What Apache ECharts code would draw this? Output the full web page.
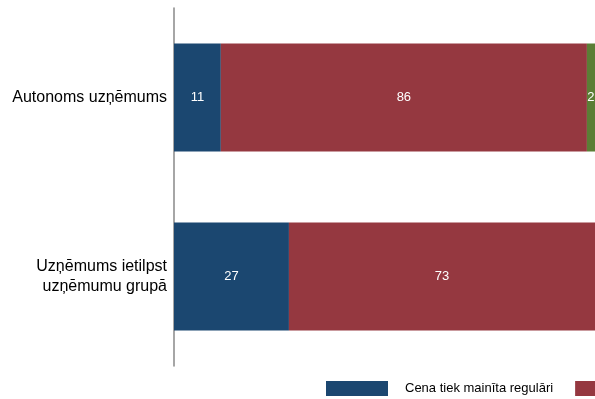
<!DOCTYPE html>
<html>
<head>
<meta charset="utf-8">
<script src="https://cdn.jsdelivr.net/npm/echarts@6/dist/echarts.min.js"></script>
<style>html,body{margin:0;padding:0;background:#fff}#c{width:595px;height:399px}</style>
</head>
<body>
<div id="c"></div>
<script>
const categories = ["Autonoms uzņēmums", "Uzņēmums ietilpst\nuzņēmumu grupā"];
const seriesNames = ["Cena tiek mainīta regulāri", "Cena tiek mainīta neregulāri", "Cena netiek mainīta"];
const regularValues = [11, 27];
const irregularValues = [86, 73];
const unchangedValues = [2, 0];
const colors = ["#1b4770", "#953840", "#5b7e35"];

const chart = echarts.init(document.getElementById('c'), null, {renderer: 'canvas'});
const mk = (name, data, color) => ({
  name: name, type: 'bar', stack: 'total', data: data,
  barWidth: 108,
  itemStyle: {color: color},
  label: {show: true, position: 'inside', color: '#fff', fontSize: 13, fontFamily: 'Liberation Sans',
    formatter: p => p.value ? String(p.value) : ''},
  emphasis: {disabled: true}
});
chart.setOption({
  animation: false,
  grid: {left: 174, right: 0, top: 8, height: 358, containLabel: false},
  xAxis: {type: 'value', min: 0, max: 98.9, show: false},
  yAxis: {type: 'category', inverse: true, data: categories,
    axisLine: {show: true, lineStyle: {color: '#888', width: 1.5}},
    axisTick: {show: false},
    axisLabel: {color: '#000', fontSize: 16, fontFamily: 'Liberation Sans', margin: 7, lineHeight: 20, align: 'right'},
    splitLine: {show: false}},
  legend: {left: 326, top: 381, padding: 0, width: 2000, itemWidth: 62, itemHeight: 15, itemGap: 22,
    icon: 'rect',
    textStyle: {fontSize: 13, fontFamily: 'Liberation Sans', color: '#000', padding: [0, 0, 0, 12]},
    data: seriesNames},
  series: [
    mk(seriesNames[0], regularValues, colors[0]),
    mk(seriesNames[1], irregularValues, colors[1]),
    mk(seriesNames[2], unchangedValues, colors[2])
  ]
});
</script>
</body>
</html>
